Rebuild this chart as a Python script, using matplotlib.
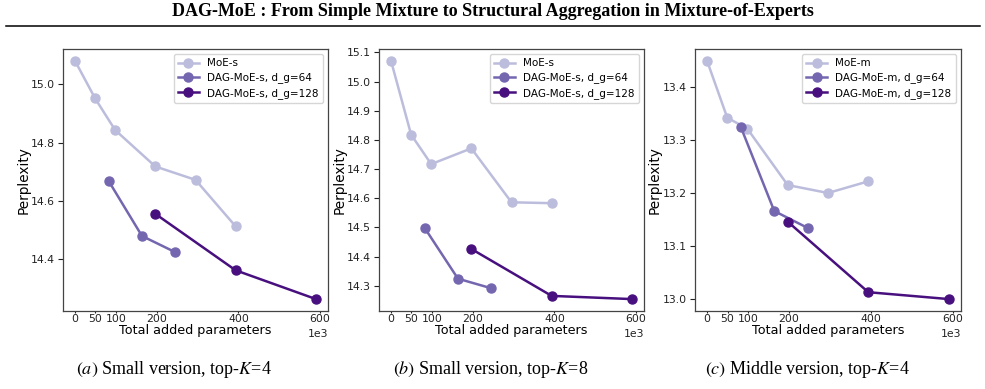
import matplotlib
matplotlib.use("Agg")
import matplotlib.pyplot as plt
from matplotlib.lines import Line2D
from matplotlib.ticker import ScalarFormatter

# total added parameters
moe_x = [0, 49152, 98304, 196608, 294912, 393216]
dag64_x = [81920, 163840, 245760]
dag128_x = [196608, 393216, 589824]

# perplexity per panel
moe_a = [15.081, 14.952, 14.843, 14.718, 14.672, 14.512]
dag64_a = [14.669, 14.479, 14.423]
dag128_a = [14.555, 14.361, 14.262]

moe_b = [15.071, 14.818, 14.717, 14.771, 14.586, 14.583]
dag64_b = [14.499, 14.324, 14.291]
dag128_b = [14.426, 14.265, 14.254]

moe_c = [13.449, 13.342, 13.321, 13.215, 13.200, 13.222]
dag64_c = [13.325, 13.166, 13.134]
dag128_c = [13.146, 13.013, 13.000]

panels = [
    ("s", moe_a, dag64_a, dag128_a),
    ("s", moe_b, dag64_b, dag128_b),
    ("m", moe_c, dag64_c, dag128_c),
]
captions = [("a", "Small version, top-", "4"),
            ("b", "Small version, top-", "8"),
            ("c", "Middle version, top-", "4")]

xticks = [0, 50000, 100000, 200000, 400000, 600000]
colors = ["#bcbddc", "#7566b0", "#48107f"]

plt.rcParams["mathtext.fontset"] = "stix"

fig = plt.figure(figsize=(9.85, 3.89), dpi=100)
W, H = 985, 389

# page header
fig.text(0.5, 1 - 11 / H, "DAG-MoE : From Simple Mixture to Structural Aggregation in Mixture-of-Experts",
         ha="center", va="center", fontsize=13, fontweight="bold", family="Liberation Serif")
fig.add_artist(Line2D([6 / W, 980 / W], [1 - 26 / H, 1 - 26 / H], color="black", lw=1.1))

lefts = [63, 379, 695]
rights = [328, 644, 961]
top, bottom = 49, 311
cap_x = [174, 491, 807]

for i, (size, moe, d64, d128) in enumerate(panels):
    ax = fig.add_axes([lefts[i] / W, 1 - bottom / H, (rights[i] - lefts[i]) / W, (bottom - top) / H])
    ax.plot(moe_x, moe, "-o", color=colors[0], lw=1.8, ms=6.5, label=f"MoE-{size}")
    ax.plot(dag64_x, d64, "-o", color=colors[1], lw=1.8, ms=6.5, label=f"DAG-MoE-{size}, d_g=64")
    ax.plot(dag128_x, d128, "-o", color=colors[2], lw=1.8, ms=6.5, label=f"DAG-MoE-{size}, d_g=128")
    ax.set_xticks(xticks)
    fmt = ScalarFormatter()
    fmt.set_powerlimits((3, 3))
    ax.xaxis.set_major_formatter(fmt)
    ax.tick_params(labelsize=7.8, width=0.8, colors="#222222")
    ax.tick_params(axis="x", length=1.5, pad=1)
    ax.tick_params(axis="y", length=3.5, pad=2.5)
    ax.xaxis.get_offset_text().set_fontsize(7.8)
    ax.set_xlabel("Total added parameters", fontsize=9.2, labelpad=0)
    ax.set_ylabel("Perplexity", fontsize=9.8)
    ax.yaxis.set_label_coords(-0.124, 0.5)
    for s in ax.spines.values():
        s.set_color("#444444")
        s.set_linewidth(0.9)
    ax.legend(fontsize=7.5, loc="upper right", handlelength=2, borderpad=0.4, labelspacing=0.4)

    tag, txt, k = captions[i]
    fig.text(cap_x[i] / W, 1 - 369 / H, rf"$\mathit{{({tag})}}$ {txt}$K$={k}",
             ha="center", va="center", fontsize=13, family="Liberation Serif")

fig.savefig("out.png", dpi=100)
